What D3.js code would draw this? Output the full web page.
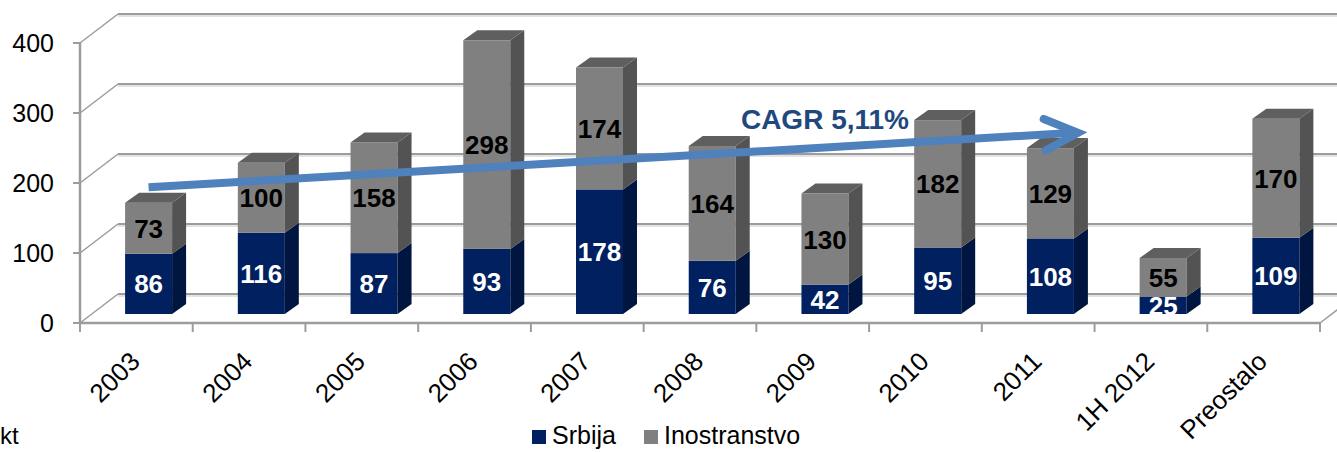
<!DOCTYPE html>
<html>
<head>
<meta charset="utf-8">
<script src="https://cdn.jsdelivr.net/npm/d3@7"></script>
<style>
  body { margin: 0; background: #fff; overflow: hidden; }
  text { font-family: Arial, "Liberation Sans", sans-serif; }
</style>
</head>
<body>
<script>
// data (kt)
var categories = ["2003", "2004", "2005", "2006", "2007", "2008", "2009", "2010", "2011", "1H 2012", "Preostalo"];
var srbija     = [86, 116, 87, 93, 178, 76, 42, 95, 108, 25, 109];
var inostr     = [73, 100, 158, 298, 174, 164, 130, 182, 129, 55, 170];
var yTicks     = [0, 100, 200, 300, 400];
var seriesNames = ["Srbija", "Inostranstvo"];
var cagrLabel  = "CAGR 5,11%";
var unitLabel  = "kt";

var W = 1337, H = 452;
var svg = d3.select("body").append("svg")
	.attr("width", W)
	.attr("height", H);

// 3d offsets: back wall and bar placement
var wall = {dx: 38, dy: -29};
var barShift = {dx: 12, dy: -9};
var depth = {dx: 14, dy: -10};

var x = d3.scaleBand().domain(categories).range([80, 1320]);
var y = d3.scaleLinear().domain([0, 400]).range([323, 43]);
var bw = x.bandwidth();
var barW = 47;
var barX = function(c) { return x(c) + bw * 0.4; };
var barY = function(v) { return y(v) + barShift.dy; };
var barCx = function(c) { return barX(c) + barW / 2; };

var gridCol = "#9c9c9c";

// gridlines on back wall + slanted side lines
var grid = svg.append("g");
yTicks.forEach(function(t) {
	var yy = y(t);
	grid.append("line")
		.attr("x1", 80 + wall.dx).attr("x2", W + 40)
		.attr("y1", yy + wall.dy + 2).attr("y2", yy + wall.dy + 2)
		.attr("stroke", "#dadada").attr("stroke-width", 1.5);
	grid.append("line")
		.attr("x1", 80 + wall.dx).attr("x2", W + 40)
		.attr("y1", yy + wall.dy).attr("y2", yy + wall.dy)
		.attr("stroke", gridCol).attr("stroke-width", 2);
	grid.append("line")
		.attr("x1", 80).attr("x2", 80 + wall.dx)
		.attr("y1", yy).attr("y2", yy + wall.dy)
		.attr("stroke", gridCol).attr("stroke-width", 1.5);
});

// floor front edge + right edge
var xEnd = x.range()[1];
grid.append("line")
	.attr("x1", 80).attr("x2", xEnd)
	.attr("y1", y(0)).attr("y2", y(0))
	.attr("stroke", gridCol).attr("stroke-width", 2.5);
grid.append("line")
	.attr("x1", xEnd).attr("x2", xEnd + wall.dx)
	.attr("y1", y(0)).attr("y2", y(0) + wall.dy)
	.attr("stroke", gridCol).attr("stroke-width", 1.5);

// category ticks
categories.concat(["__end"]).forEach(function(c, i) {
	var xx = i < categories.length ? x(c) : xEnd;
	grid.append("line")
		.attr("x1", xx).attr("x2", xx)
		.attr("y1", y(0)).attr("y2", y(0) + 9)
		.attr("stroke", gridCol).attr("stroke-width", 2);
});

// value axis
grid.append("line")
	.attr("x1", 80).attr("x2", 80)
	.attr("y1", y(400)).attr("y2", y(0))
	.attr("stroke", gridCol).attr("stroke-width", 2.5);
yTicks.forEach(function(t) {
	grid.append("line")
		.attr("x1", 73).attr("x2", 80)
		.attr("y1", y(t)).attr("y2", y(t))
		.attr("stroke", gridCol).attr("stroke-width", 2);
	svg.append("text")
		.attr("x", 54).attr("y", y(t) + 9)
		.attr("text-anchor", "end")
		.attr("font-size", 25)
		.attr("fill", "#000")
		.text(t);
});

// bars
var colors = {
	blue: {front: "#002060", side: "#001540", top: "#00184a"},
	gray: {front: "#808080", side: "#535353", top: "#5f5f5f"}
};

function drawBox(g, c, v0, v1, col, withTop) {
	var x0 = barX(c), x1 = x0 + barW;
	var yb = barY(v0), yt = barY(v1);
	g.append("rect")
		.attr("x", x0).attr("y", yt)
		.attr("width", barW).attr("height", yb - yt)
		.attr("fill", col.front);
	g.append("path")
		.attr("d", "M" + x1 + "," + yt + "L" + (x1 + depth.dx) + "," + (yt + depth.dy) +
			"L" + (x1 + depth.dx) + "," + (yb + depth.dy) + "L" + x1 + "," + yb + "Z")
		.attr("fill", col.side);
	if (withTop) {
		g.append("path")
			.attr("d", "M" + x0 + "," + yt + "L" + (x0 + depth.dx) + "," + (yt + depth.dy) +
				"L" + (x1 + depth.dx) + "," + (yt + depth.dy) + "L" + x1 + "," + yt + "Z")
			.attr("fill", col.top);
	}
}

var bars = svg.append("g");
categories.forEach(function(c, i) {
	var g = bars.append("g");
	drawBox(g, c, 0, srbija[i], colors.blue, false);
	drawBox(g, c, srbija[i], srbija[i] + inostr[i], colors.gray, true);
});

// data labels
var labels = svg.append("g")
	.attr("font-size", 26)
	.attr("font-weight", "bold")
	.attr("text-anchor", "middle");
categories.forEach(function(c, i) {
	labels.append("text")
		.attr("x", barCx(c))
		.attr("y", barY(srbija[i] / 2) + 9.5)
		.attr("fill", "#fff")
		.text(srbija[i]);
	labels.append("text")
		.attr("x", barCx(c))
		.attr("y", barY(srbija[i] + inostr[i] / 2) + 9.5)
		.attr("fill", "#000")
		.text(inostr[i]);
});

// category labels, rotated
categories.forEach(function(c) {
	var ax = x(c) + bw / 2 + 5, ay = 363;
	svg.append("text")
		.attr("transform", "translate(" + ax + "," + ay + ") rotate(-45)")
		.attr("text-anchor", "end")
		.attr("font-size", 26)
		.attr("fill", "#000")
		.text(c);
});

// CAGR arrow
var arrowCol = "#4f81bd";
var ax0 = barCx("2003"), ay0 = barY(181);
var ax1 = barCx("2011") + bw * 0.245, ay1 = barY(259);
svg.append("line")
	.attr("x1", ax0).attr("y1", ay0)
	.attr("x2", ax1 - 3).attr("y2", ay1)
	.attr("stroke", arrowCol).attr("stroke-width", 8);
var ang = Math.atan2(ay1 - ay0, ax1 - ax0);
var armLen = 37, armAng = 0.44;
var p1 = [ax1 - armLen * Math.cos(ang - armAng), ay1 - armLen * Math.sin(ang - armAng)];
var p2 = [ax1 - armLen * Math.cos(ang + armAng), ay1 - armLen * Math.sin(ang + armAng)];
svg.append("path")
	.attr("d", "M" + p1 + "L" + ax1 + "," + ay1 + "L" + p2)
	.attr("fill", "none")
	.attr("stroke", arrowCol).attr("stroke-width", 8)
	.attr("stroke-linecap", "round").attr("stroke-linejoin", "miter");

svg.append("text")
	.attr("x", barCx("2009"))
	.attr("y", barY(264))
	.attr("text-anchor", "middle")
	.attr("font-size", 28)
	.attr("font-weight", "bold")
	.attr("fill", "#1f497d")
	.text(cagrLabel);

// legend (kept a touch higher so descenders stay inside)
var legend = svg.append("g").attr("font-size", 25);
var legX = [532, 644];
seriesNames.forEach(function(s, i) {
	legend.append("rect")
		.attr("x", legX[i]).attr("y", 430)
		.attr("width", 14).attr("height", 14)
		.attr("fill", i === 0 ? colors.blue.front : colors.gray.front);
	legend.append("text")
		.attr("x", legX[i] + 20).attr("y", 444)
		.attr("fill", "#000")
		.text(s);
});

// unit label, bottom-left corner
svg.append("text")
	.attr("x", 0).attr("y", 444)
	.attr("font-size", 24)
	.attr("fill", "#000")
	.text(unitLabel);
</script>
</body>
</html>
